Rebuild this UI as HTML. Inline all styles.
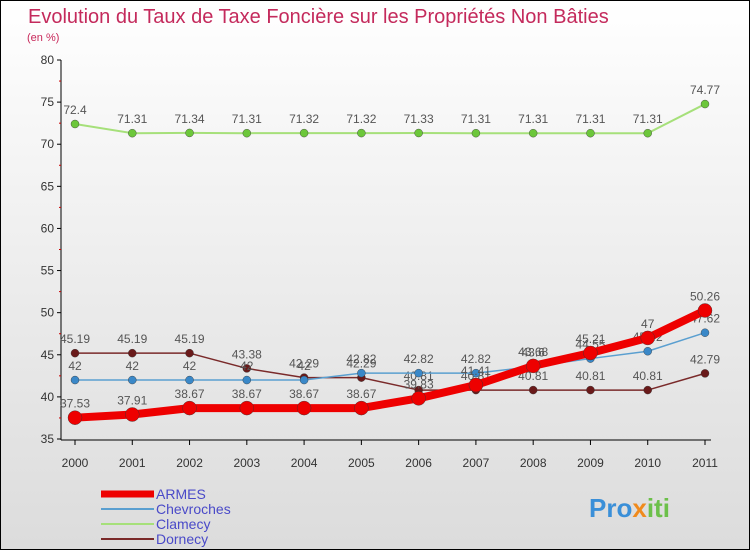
<!DOCTYPE html>
<html><head><meta charset="utf-8">
<style>
body{margin:0;width:750px;height:550px;overflow:hidden;font-family:"Liberation Sans",sans-serif}
#c{position:absolute;left:0;top:0;width:748px;height:548px;border:1px solid #000;background:linear-gradient(#fff 0%,#e9e9e9 60%,#dcdcdc 100%)}
</style></head><body>
<div id="c">
<svg id="s" width="748" height="548" xmlns="http://www.w3.org/2000/svg">
<text x="27" y="22" font-size="20" fill="#c42a5c">Evolution du Taux de Taxe Foncière sur les Propriétés Non Bâties</text>
<text x="26" y="40" font-size="11" fill="#c8285a">(en %)</text>
<g id="g"></g>
<text x="588" y="516" font-size="26" font-weight="bold" fill="#3a8fd8">Pro<tspan fill="#f08a1c">x</tspan><tspan fill="#6cc04a">iti</tspan></text>
</svg>
</div>
<script>
const years=[2000,2001,2002,2003,2004,2005,2006,2007,2008,2009,2010,2011];
const armes=[37.53,37.91,38.67,38.67,38.67,38.67,39.83,41.41,43.68,45.21,47,50.26];
const chevroches=[42,42,42,42,42,42.82,42.82,42.82,43.6,44.55,45.42,47.62];
const clamecy=[72.4,71.31,71.34,71.31,71.32,71.32,71.33,71.31,71.31,71.31,71.31,74.77];
const dornecy=[45.19,45.19,45.19,43.38,42.29,42.29,40.81,40.81,40.81,40.81,40.81,42.79];
const yTicks=[35,40,45,50,55,60,65,70,75,80];
const NS="http://www.w3.org/2000/svg";
const g=document.getElementById('g');
function X(i){return 74+i*(630/11);}
function Y(v){return 438-(v-35)*(379/45);}
function mk(t,a,p){const e=document.createElementNS(NS,t);for(const k in a)e.setAttribute(k,a[k]);(p||g).appendChild(e);return e;}
const ax=mk('line',{x1:60,y1:59,x2:60,y2:439,stroke:'#000'});


yTicks.forEach(v=>{
  mk('line',{x1:56,y1:Y(v),x2:60,y2:Y(v),stroke:'#000'});
  if(v<80){mk('line',{x1:58,y1:Y(v+2.5),x2:60,y2:Y(v+2.5),stroke:'#c00'});}
  const t=mk('text',{x:53,y:Y(v)+4,'font-size':12,fill:'#333','text-anchor':'end'});
  t.textContent=v;
  
  
});
const xa=mk('line',{x1:60,y1:439,x2:710,y2:439,stroke:'#000'});


years.forEach((y,i)=>{
  mk('line',{x1:X(i),y1:439,x2:X(i),y2:444,stroke:'#000'});
  const t=mk('text',{x:X(i),y:466,'font-size':12,fill:'#333','text-anchor':'middle'});
  t.textContent=y;
  
  
});
function series(name,vals,color,w,r,dot){
  const grp=mk('g',{});
  
  
  const pl=mk('polyline',{points:vals.map((v,i)=>X(i)+','+Y(v)).join(' '),fill:'none',stroke:color,'stroke-width':w,'stroke-linejoin':'round'},grp);
  
  
  vals.forEach((v,i)=>{
    const c=mk('circle',{cx:X(i),cy:Y(v),r:r,fill:dot,stroke:'#333','stroke-width':0.4},grp);
    
    
    const t=mk('text',{x:X(i),y:Y(v)-10,'font-size':12,fill:'#555','text-anchor':'middle'},grp);
    t.textContent=v;
    
    
  });
}
series('clamecy',clamecy,'#a6e07a',2,4,'#6cc73a');
series('dornecy',dornecy,'#7a2a2a',1.5,4,'#6a1a1a');
series('chevroches',chevroches,'#5a9fd0',1.5,4,'#3a88c8');
series('armes',armes,'#ee0000',8,7,'#ee0000');
const leg=[['ARMES','#ee0000',7],['Chevroches','#5a9fd0',2],['Clamecy','#a6e07a',2],['Dornecy','#7a2a2a',2]];
leg.forEach((l,i)=>{
  const y=493+i*15;
  const ln=mk('line',{x1:100,y1:y,x2:153,y2:y,stroke:l[1],'stroke-width':l[2]});
  
  
  const t=mk('text',{x:155,y:y+5,'font-size':14,fill:'#4a4ac8'});
  t.textContent=l[0];
  
  
});
</script>
</body></html>
